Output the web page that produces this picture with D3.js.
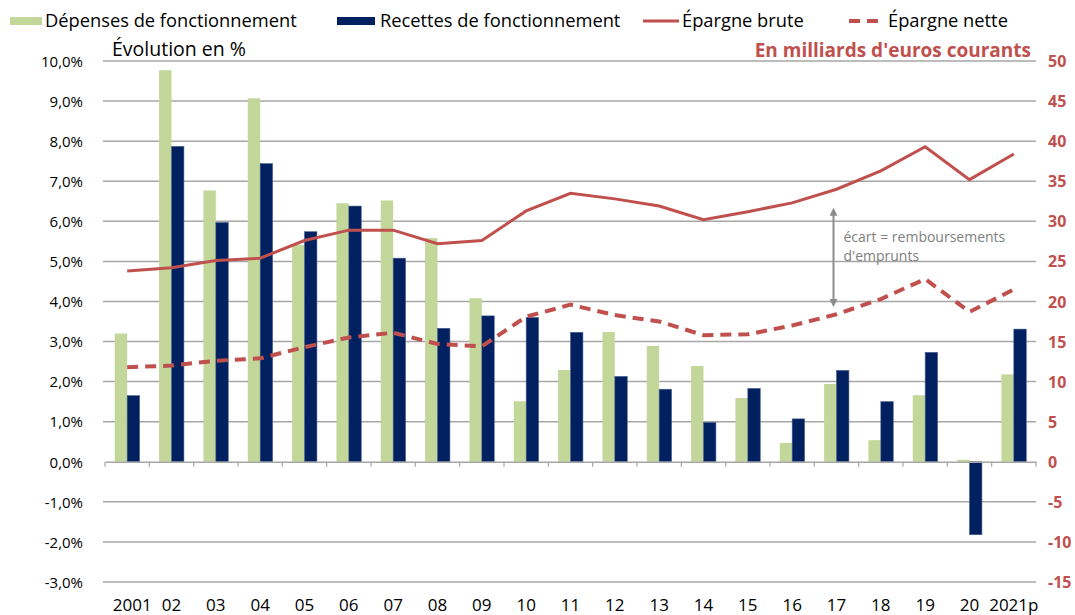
<!DOCTYPE html>
<html>
<head>
<meta charset="utf-8">
<script src="https://cdn.jsdelivr.net/npm/d3@7"></script>
<style>
  body { margin: 0; background: #fff; }
  svg { font-family: 'Open Sans', sans-serif; }
</style>
</head>
<body>
<svg width="1075" height="615"></svg>
<script>
const categories = ['2001', '02', '03', '04', '05', '06', '07', '08', '09', '10', '11', '12', '13', '14', '15', '16', '17', '18', '19', '20', '2021p']
// evolution en %
const depenses = [3.20, 9.77, 6.77, 9.07, 5.41, 6.45, 6.52, 5.58, 4.08, 1.51, 2.29, 3.24, 2.89, 2.39, 1.59, 0.47, 1.94, 0.54, 1.66, 0.05, 2.18]
const recettes = [1.65, 7.87, 5.97, 7.44, 5.74, 6.38, 5.08, 3.33, 3.64, 3.60, 3.23, 2.13, 1.81, 0.98, 1.83, 1.07, 2.28, 1.50, 2.73, -1.82, 3.31]
// en milliards d'euros courants
const epargneBrute = [23.8, 24.2, 25.1, 25.4, 27.6, 28.9, 28.9, 27.2, 27.6, 31.3, 33.5, 32.8, 31.9, 30.2, 31.2, 32.3, 34.0, 36.3, 39.3, 35.2, 38.4]
const epargneNette = [11.8, 12.0, 12.6, 12.9, 14.3, 15.5, 16.1, 14.7, 14.4, 18.1, 19.6, 18.3, 17.5, 15.8, 15.9, 17.0, 18.4, 20.3, 22.8, 18.7, 21.5]
const leftTicks = [-3, -2, -1, 0, 1, 2, 3, 4, 5, 6, 7, 8, 9, 10]
const rightTicks = [-15, -10, -5, 0, 5, 10, 15, 20, 25, 30, 35, 40, 45, 50]

const GREEN = '#c4d79b'
const NAVY = '#002060'
const RED = '#c0504d'
const GRID = '#a6a6a6'

function Chart () {
    const self = {}
    let svg = d3.select('svg')
    const left = 105, right = 1036, top = 61, bottom = 582

    let x = d3.scaleBand()
	.domain(categories)
	.range([left, right])
    let bw = x.bandwidth()
    let x1 = d3.scaleBand()
	.domain(['dep', 'rec'])
	.range([bw * 0.22, bw * 0.78])
    let yL = d3.scaleLinear().domain([-3, 10]).range([bottom, top])
    let yR = d3.scaleLinear().domain([-15, 50]).range([bottom, top])

    // gridlines
    svg.append('g')
	.selectAll('line')
	.data(leftTicks.filter(d => d !== 0))
	.enter()
	.append('line')
	.attr('x1', left - 2)
	.attr('x2', right)
	.attr('y1', d => yL(d))
	.attr('y2', d => yL(d))
	.attr('stroke', GRID)
	.attr('stroke-width', 1.5)

    // left axis labels
    let fmt = d => d.toFixed(1).replace('.', ',') + '%'
    svg.append('g')
	.attr('transform', 'translate(83,0)')
	.call(d3.axisLeft(yL).tickValues(leftTicks).tickFormat(fmt).tickSize(0))
	.call(g => g.select('.domain').remove())
	.call(g => g.selectAll('text')
	      .attr('x', 0)
	      .attr('dy', '0.35em')
	      .style('font-family', "'Open Sans', sans-serif")
	      .style('font-size', '15px')
	      .attr('fill', '#000'))

    // right axis labels (plain hyphen for negatives)
    svg.append('g')
	.attr('transform', 'translate(1048,0)')
	.call(d3.axisRight(yR).tickValues(rightTicks).tickFormat(d => String(d)).tickSize(0))
	.call(g => g.select('.domain').remove())
	.call(g => g.selectAll('text')
	      .attr('x', 0)
	      .attr('dy', '0.35em')
	      .style('font-family', "'Open Sans', sans-serif")
	      .style('font-size', '16px')
	      .style('font-weight', 'bold')
	      .attr('fill', RED))

    // bars
    let groups = svg.append('g')
	.selectAll('g')
	.data(categories)
	.enter()
	.append('g')
	.attr('transform', d => 'translate(' + x(d) + ',0)')
    groups.append('rect')
	.attr('x', x1('dep'))
	.attr('width', x1.bandwidth())
	.attr('y', (d, i) => yL(Math.max(0, depenses[i])))
	.attr('height', (d, i) => Math.abs(yL(depenses[i]) - yL(0)))
	.attr('fill', GREEN)
    groups.append('rect')
	.attr('x', x1('rec'))
	.attr('width', x1.bandwidth())
	.attr('y', (d, i) => yL(Math.max(0, recettes[i])))
	.attr('height', (d, i) => Math.abs(yL(recettes[i]) - yL(0)))
	.attr('fill', NAVY)
	.attr('stroke', '#4a5f8c')
	.attr('stroke-width', 0.6)

    // x axis at 0
    svg.append('g')
	.attr('transform', 'translate(0,' + yL(0) + ')')
	.call(d3.axisBottom(x).tickValues([]).tickSizeOuter(0))
	.call(g => g.select('.domain').attr('stroke', GRID).attr('stroke-width', 1.5))
    svg.append('g')
	.selectAll('line')
	.data(categories.concat(['end']))
	.enter()
	.append('line')
	.attr('x1', (d, i) => left + i * bw)
	.attr('x2', (d, i) => left + i * bw)
	.attr('y1', yL(0))
	.attr('y2', yL(0) + 5)
	.attr('stroke', GRID)
	.attr('stroke-width', 1.2)

    // category labels
    svg.append('g')
	.selectAll('text')
	.data(categories)
	.enter()
	.append('text')
	.attr('x', d => x(d) + bw / 2 + (d === '2001' ? 5 : 0))
	.attr('y', 611)
	.attr('text-anchor', 'middle')
	.style('font-size', '17px')
	.attr('fill', '#000')
	.text(d => d)

    // lines
    let cx = d => x(d) + bw / 2
    let lineBrute = d3.line()
	.x((d, i) => cx(categories[i]))
	.y(d => yR(d))
    svg.append('path')
	.datum(epargneBrute)
	.attr('d', lineBrute)
	.attr('fill', 'none')
	.attr('stroke', RED)
	.attr('stroke-width', 3)
    svg.append('path')
	.datum(epargneNette)
	.attr('d', lineBrute)
	.attr('fill', 'none')
	.attr('stroke', RED)
	.attr('stroke-width', 4)
	.attr('stroke-dasharray', '11,7')

    // annotation arrow
    let ax = cx('17') - 3
    svg.append('defs').html(
	'<marker id="arr" viewBox="0 0 10 10" refX="5" refY="5" markerWidth="4" markerHeight="4" orient="auto-start-reverse">' +
	'<path d="M0,0 L10,5 L0,10 z" fill="#8c8c8c"/></marker>')
    svg.append('line')
	.attr('x1', ax).attr('x2', ax)
	.attr('y1', yR(31.2)).attr('y2', yR(19.8))
	.attr('stroke', '#8c8c8c')
	.attr('stroke-width', 2)
	.attr('marker-start', 'url(#arr)')
	.attr('marker-end', 'url(#arr)')
    svg.append('text')
	.attr('x', ax + 10).attr('y', 242)
	.attr('fill', '#808080')
	.style('font-size', '14px')
	.text('écart = remboursements')
    svg.append('text')
	.attr('x', ax + 10).attr('y', 261)
	.attr('fill', '#808080')
	.style('font-size', '14px')
	.text("d'emprunts")

    // titles
    svg.append('text')
	.attr('x', 112).attr('y', 56)
	.style('font-size', '19.5px')
	.attr('fill', '#000')
	.text('Évolution en %')
    svg.append('text')
	.attr('x', 1031).attr('y', 57)
	.attr('text-anchor', 'end')
	.style('font-size', '19px')
	.style('font-weight', 'bold')
	.attr('fill', RED)
	.text("En milliards d'euros courants")

    // legend
    let legend = svg.append('g').style('font-size', '18.3px')
    legend.append('rect').attr('x', 10).attr('y', 17).attr('width', 32).attr('height', 8).attr('fill', GREEN)
    legend.append('text').attr('x', 45).attr('y', 27).text('Dépenses de fonctionnement')
    legend.append('rect').attr('x', 337).attr('y', 17).attr('width', 38).attr('height', 8).attr('fill', NAVY)
    legend.append('text').attr('x', 380).attr('y', 27).text('Recettes de fonctionnement')
    legend.append('line').attr('x1', 643).attr('x2', 679).attr('y1', 21).attr('y2', 21).attr('stroke', RED).attr('stroke-width', 3)
    legend.append('text').attr('x', 682).attr('y', 27).text('Épargne brute')
    legend.append('line').attr('x1', 849).attr('x2', 882).attr('y1', 21).attr('y2', 21).attr('stroke', RED).attr('stroke-width', 4).attr('stroke-dasharray', '11,7')
    legend.append('text').attr('x', 888).attr('y', 27).text('Épargne nette')

    return self
}

let chart = Chart()
</script>
</body>
</html>
